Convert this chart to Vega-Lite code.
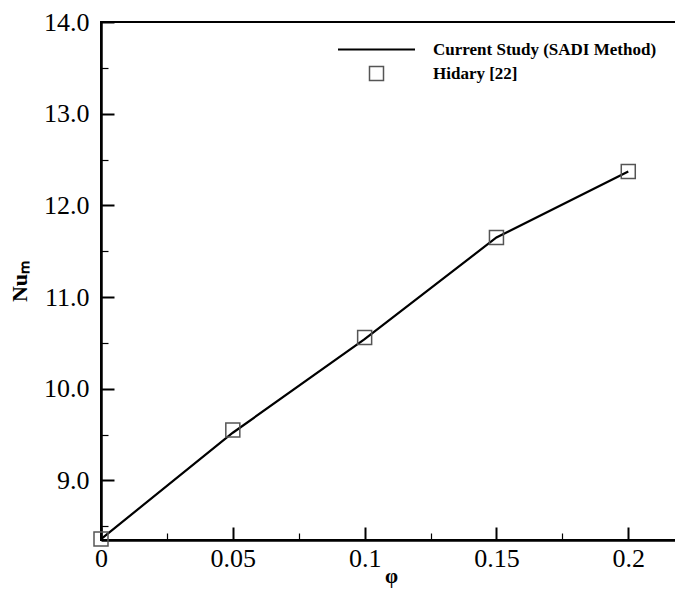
{
  "$schema": "https://vega.github.io/schema/vega-lite/v6.json",
  "width": 580,
  "height": 518,
  "autosize": "none",
  "padding": {"left": 101, "top": 22, "right": 0, "bottom": 49},
  "background": "white",
  "config": {
    "view": {"stroke": "black", "strokeWidth": 2},
    "font": "Liberation Serif",
    "axis": {
      "grid": false,
      "labelFont": "Liberation Serif",
      "labelColor": "black",
      "tickColor": "black",
      "domainColor": "black",
      "titleFont": "Liberation Serif",
      "titleColor": "black",
      "titleFontWeight": "bold",
      "labelFlush": false
    }
  },
  "datasets": {
    "nu": [
      {"phi": 0, "Nu": 8.36, "series": "Current Study (SADI Method)"},
      {"phi": 0.05, "Nu": 9.52, "series": "Current Study (SADI Method)"},
      {"phi": 0.1, "Nu": 10.54, "series": "Current Study (SADI Method)"},
      {"phi": 0.15, "Nu": 11.65, "series": "Current Study (SADI Method)"},
      {"phi": 0.2, "Nu": 12.37, "series": "Current Study (SADI Method)"},
      {"phi": 0, "Nu": 8.36, "series": "Hidary [22]"},
      {"phi": 0.05, "Nu": 9.55, "series": "Hidary [22]"},
      {"phi": 0.1, "Nu": 10.56, "series": "Hidary [22]"},
      {"phi": 0.15, "Nu": 11.65, "series": "Hidary [22]"},
      {"phi": 0.2, "Nu": 12.37, "series": "Hidary [22]"}
    ]
  },
  "data": {"name": "nu"},
  "layer": [
    {
      "transform": [{"filter": "datum.series === 'Current Study (SADI Method)'"}],
      "mark": {"type": "line", "color": "black", "strokeWidth": 2.2},
      "encoding": {
        "x": {
          "field": "phi", "type": "quantitative",
          "scale": {"domain": [0, 0.22], "nice": false, "zero": false},
          "axis": {
            "orient": "bottom",
            "values": [0, 0.05, 0.1, 0.15, 0.2],
            "format": "~g",
            "labelFontSize": 26,
            "labelPadding": 18,
            "labelFlush": false,
            "tickSize": -13,
            "tickWidth": 2,
            "domainWidth": 2.5,
            "labelOverlap": false,
            "title": "φ",
            "titleFontSize": 21,
            "titlePadding": -6
          }
        },
        "y": {
          "field": "Nu", "type": "quantitative",
          "scale": {"domain": [8.35, 14], "nice": false, "zero": false},
          "axis": {
            "orient": "left",
            "values": [9, 10, 11, 12, 13, 14],
            "format": ".1f",
            "labelFontSize": 26,
            "labelPadding": 25,
            "labelFlush": false,
            "tickSize": -13,
            "tickWidth": 2,
            "domainWidth": 2.5,
            "labelOverlap": false,
            "title": "Nuₘ",
            "titleFontSize": 22,
            "titlePadding": 12
          }
        }
      }
    },
    {
      "transform": [{"filter": "datum.series === 'Hidary [22]'"}],
      "mark": {"type": "point", "filled": false, "size": 196, "opacity": 1},
      "encoding": {
        "x": {
          "field": "phi", "type": "quantitative",
          "axis": {
            "orient": "bottom",
            "values": [0.025, 0.075, 0.125, 0.175],
            "labels": false,
            "domain": false,
            "tickSize": -7,
            "tickWidth": 1.2,
            "title": null
          }
        },
        "y": {
          "field": "Nu", "type": "quantitative",
          "axis": {
            "orient": "left",
            "values": [8.5, 9.5, 10.5, 11.5, 12.5, 13.5],
            "labels": false,
            "domain": false,
            "tickSize": -7,
            "tickWidth": 1.2,
            "title": null
          }
        },
        "stroke": {
          "field": "series", "type": "nominal",
          "scale": {
            "domain": ["Current Study (SADI Method)", "Hidary [22]"],
            "range": ["black", "#555555"]
          }
        },
        "strokeWidth": {
          "field": "series", "type": "nominal",
          "scale": {
            "domain": ["Current Study (SADI Method)", "Hidary [22]"],
            "range": [2.2, 1.5]
          }
        },
        "shape": {
          "field": "series", "type": "nominal",
          "scale": {
            "domain": ["Current Study (SADI Method)", "Hidary [22]"],
            "range": ["M-5.5,0H5.5", "square"]
          },
          "legend": {
            "orient": "none",
            "legendX": 267,
            "legendY": 19,
            "title": null,
            "padding": 0,
            "symbolSize": 196,
            "labelOffset": 48,
            "rowPadding": 5,
            "labelFont": "Liberation Serif",
            "labelFontSize": 17,
            "labelFontWeight": "bold",
            "labelColor": "black",
            "labelLimit": 400,
            "symbolFillColor": "transparent"
          }
        }
      }
    }
  ],
  "resolve": {"axis": {"x": "independent", "y": "independent"}}
}
